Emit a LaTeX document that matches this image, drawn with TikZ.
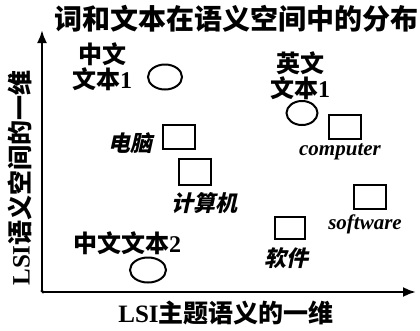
\documentclass[tikz,border=0pt]{standalone}
\usepackage{fontspec}
\setmainfont{Liberation Serif}
\newfontfamily\cjk{Noto Sans CJK SC}
\newfontfamily\cjkit[FakeSlant=0.22]{Noto Sans CJK SC}
\usetikzlibrary{arrows.meta,shapes.geometric}
\tikzset{
  wbox/.style={draw, line width=2pt, minimum width=32pt, minimum height=24pt, inner sep=0pt},
  docell/.style={draw, ellipse, line width=2pt, minimum width=32pt, minimum height=24pt, inner sep=0pt},
  doclbl/.style={font=\cjk\bfseries\fontsize{24}{25}\selectfont, align=center, inner sep=0pt},
  cnword/.style={font=\cjkit\bfseries\fontsize{22}{24}\selectfont, inner sep=0pt},
  enword/.style={font=\rmfamily\bfseries\itshape\fontsize{21}{22}\selectfont, inner sep=0pt},
  axislbl/.style={font=\cjk\bfseries\fontsize{25}{26}\selectfont, inner sep=0pt},
  axisline/.style={line width=2.4pt, -{Latex[length=13pt,width=10pt]}},
}
\begin{document}
\begin{tikzpicture}[x=1pt,y=-1pt]
\useasboundingbox (0,0) rectangle (420,330);
% title
\node[axislbl, font=\cjk\bfseries\fontsize{28}{30}\selectfont] (title) at (236,19) {词和文本在语义空间中的分布};
% axes
\coordinate (o) at (42,292);
\coordinate (ytop) at (42,30);
\coordinate (xend) at (416,292);
\draw[axisline] (o) -- (ytop);
\draw[axisline] (o) -- (xend);
\draw[line width=2.4pt, line cap=rect] (42,291) -- (43,292);
\node[axislbl] (xlabel) at (226,313) {{\rmfamily\bfseries LSI}主题语义的一维};
\node[axislbl, rotate=90] (ylabel) at (20,178) {{\rmfamily\bfseries LSI}语义空间的一维};
% documents
\node[doclbl] (zw1) at (102,67) {中文\\文本{\rmfamily\bfseries 1}};
\node[docell, minimum width=34pt, minimum height=25pt] (c1) at (165,77) {};
\node[doclbl] (yw1) at (300,76) {英文\\文本{\rmfamily\bfseries 1}};
\node[docell, minimum width=31pt, minimum height=24pt] (e1) at (302,113) {};
\node[doclbl] (zw2) at (127,243) {中文文本{\rmfamily\bfseries 2}};
\node[docell, minimum width=36pt, minimum height=25pt] (c2) at (148,270) {};
% words
\node[wbox] (b1) at (179,137) {};
\node[cnword] (w1) at (130,143) {电脑};
\node[wbox, minimum height=26pt] (b2) at (195,172) {};
\node[cnword] (w2) at (204,203) {计算机};
\node[wbox] (b3) at (345,127) {};
\node[enword] (w3) at (340,152) {computer};
\node[wbox] (b4) at (370,197) {};
\node[enword] (w4) at (365,224) {software};
\node[wbox, minimum width=30pt, minimum height=22pt] (b5) at (290,228) {};
\node[cnword] (w5) at (286,258) {软件};
\end{tikzpicture}
\end{document}
